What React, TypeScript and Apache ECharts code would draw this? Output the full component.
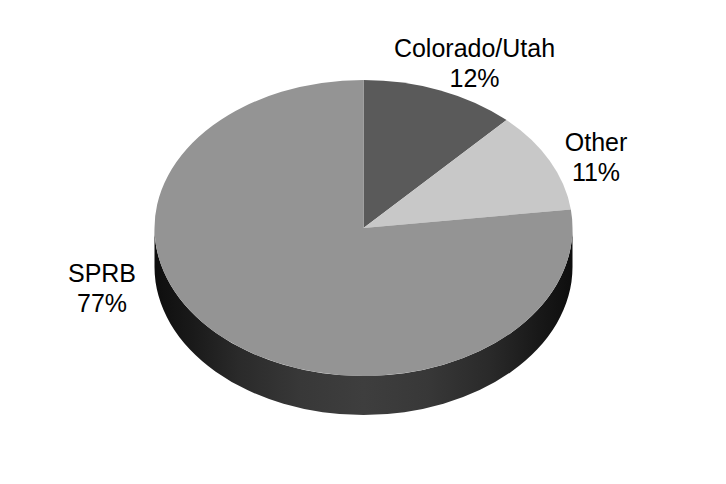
import React, { useEffect, useRef } from "react";
import * as echarts from "echarts";

const categories = ["Colorado/Utah", "Other", "SPRB"];
const shares = [12, 11, 77];
const topColors = ["#5a5a5a", "#c8c8c8", "#949494"];
const labelAnchors = [
  [474.5, 62.5],
  [596, 157],
  [102, 287.5],
];

const CX = 363.5;
const CY = 228;
const RX = 209;
const RY = 148;
const DEPTH = 39;
const TOTAL = shares.reduce((a, b) => a + b, 0);

function pt(deg: number, dy = 0) {
  const r = (deg * Math.PI) / 180;
  return [CX + RX * Math.sin(r), CY - RY * Math.cos(r) + dy];
}

function arc(toDeg: number, span: number, sweep: number, dy = 0) {
  const p = pt(toDeg, dy);
  return `A ${RX} ${RY} 0 ${span > 180 ? 1 : 0} ${sweep} ${p[0]} ${p[1]}`;
}

function renderItem(params: any, api: any) {
  const i = params.dataIndexInside;
  const value = api.value(1);
  const before = shares.slice(0, i).reduce((a, b) => a + b, 0);
  const a0 = (before / TOTAL) * 360;
  const a1 = ((before + value) / TOTAL) * 360;
  const s = pt(a0);
  const children: any[] = [];

  const lo = Math.max(a0, 90);
  const hi = Math.min(a1, 270);
  if (lo < hi) {
    const sl = pt(lo);
    const eh = pt(hi, DEPTH);
    children.push({
      type: "path",
      shape: {
        pathData:
          `M ${sl[0]} ${sl[1]} ${arc(hi, hi - lo, 1)} L ${eh[0]} ${eh[1]} ${arc(lo, hi - lo, 0, DEPTH)} Z`,
      },
      style: {
        fill: new echarts.graphic.LinearGradient(0, 0, 1, 0, [
          { offset: 0, color: "#0e0e0e" },
          { offset: 0.08, color: "#181818" },
          { offset: 0.2, color: "#2a2a2a" },
          { offset: 0.35, color: "#383838" },
          { offset: 0.5, color: "#3e3e3e" },
          { offset: 0.65, color: "#383838" },
          { offset: 0.8, color: "#2a2a2a" },
          { offset: 0.92, color: "#181818" },
          { offset: 1, color: "#0e0e0e" },
        ]),
      },
    });
  }

  children.push({
    type: "path",
    shape: {
      pathData: `M ${CX} ${CY} L ${s[0]} ${s[1]} ${arc(a1, a1 - a0, 1)} Z`,
    },
    style: { fill: topColors[i] },
  });

  const anchor = labelAnchors[i];
  children.push({
    type: "text",
    x: anchor[0],
    y: anchor[1],
    style: {
      text: `${categories[i]}\n${value}%`,
      fill: "#000",
      font: '25px "Liberation Sans", Arial, sans-serif',
      lineHeight: 30,
      align: "center",
      verticalAlign: "middle",
    },
  });

  return { type: "group", children };
}

export default function App() {
  const ref = useRef<HTMLDivElement>(null);
  useEffect(() => {
    const chart = echarts.init(ref.current!, null, { renderer: "svg" });
    chart.setOption({
      animation: false,
      backgroundColor: "#fff",
      series: [
        {
          type: "custom",
          coordinateSystem: "none",
          renderItem,
          data: categories.map((c, i) => [c, shares[i]]),
          silent: true,
        },
      ],
    });
    return () => chart.dispose();
  }, []);
  return (
    <div
      ref={ref}
      style={{ position: "absolute", left: 0, top: 0, width: 726, height: 484 }}
    />
  );
}
